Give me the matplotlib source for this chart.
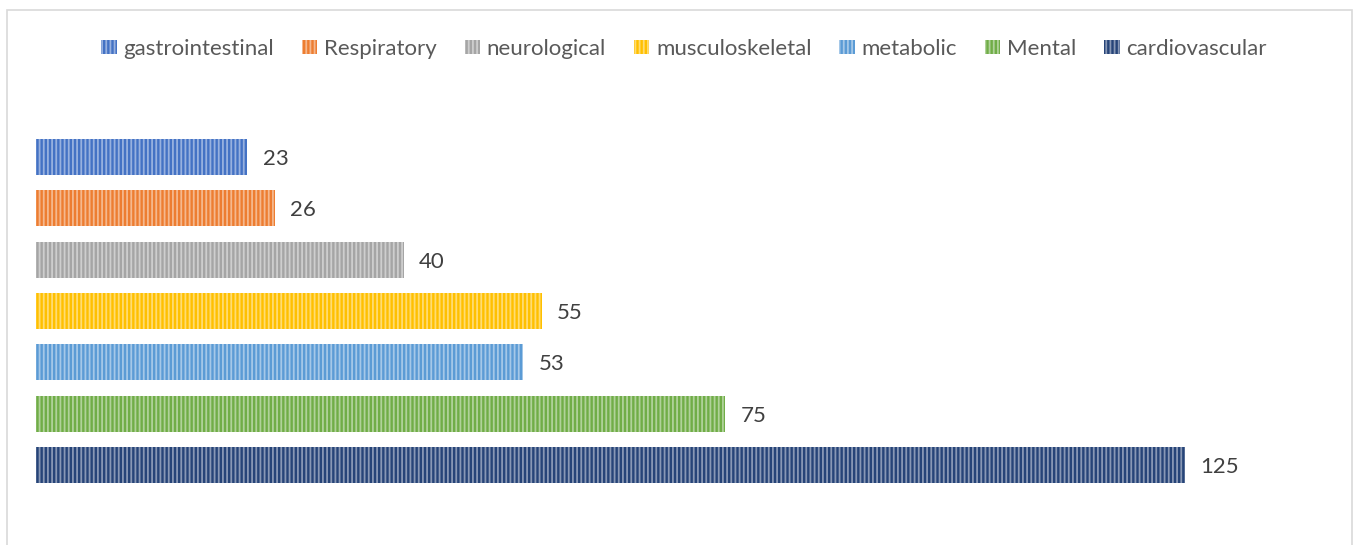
import matplotlib
matplotlib.use('Agg')
import matplotlib.pyplot as plt
from matplotlib.patches import Rectangle, Patch
from matplotlib.colors import to_rgb

# data, top bar first
categories = ['gastrointestinal', 'Respiratory', 'neurological', 'musculoskeletal',
              'metabolic', 'Mental', 'cardiovascular']
values = [23, 26, 40, 55, 53, 75, 125]
colors = ['#4472C4', '#ED7D31', '#A5A5A5', '#FFC000', '#5B9BD5', '#70AD47', '#264478']

plt.rcParams['font.family'] = ['Lato', 'DejaVu Sans']
plt.rcParams['hatch.linewidth'] = 1.3


def lighter(c, amt=0.45):
    r, g, b = to_rgb(c)
    return (r + (1 - r) * amt, g + (1 - g) * amt, b + (1 - b) * amt)


W, H = 1355, 545
fig = plt.figure(figsize=(W / 100, H / 100), dpi=100)

# chart area border (bottom edge is cut off in the reference)
fig.patches.append(Rectangle((7 / W, -0.01), (1352 - 7) / W, 1.01 - 10 / H,
                             transform=fig.transFigure, fill=False,
                             edgecolor='#d9d9d9', linewidth=1.2))

ax = fig.add_axes([36 / W, 1 - 520 / H, 1287 / W, 420 / H])
n = len(categories)
ypos = list(range(n - 1, -1, -1))
for y, v, c in zip(ypos, values, colors):
    ax.barh(y, v, height=0.70, color=c, edgecolor=lighter(c), linewidth=0,
            hatch='||||')
    ax.annotate(str(v), (v, y), xytext=(11, -1.5), textcoords='offset points',
                va='center', ha='left', fontsize=16, color='#404040')

ax.set_xlim(0, 140)
ax.set_ylim(-1.07, 7.11)
ax.axis('off')

handles = [Patch(facecolor=c, edgecolor=lighter(c), linewidth=0, hatch='||||')
           for c in colors]
fig.legend(handles, categories, loc='center', bbox_to_anchor=(684 / W, 1 - 49 / H),
           ncol=n, frameon=False, fontsize=16, labelcolor='#595959',
           handlelength=0.7, handleheight=0.6, handletextpad=0.3, columnspacing=1.25)

fig.savefig('out.png', dpi=100)
